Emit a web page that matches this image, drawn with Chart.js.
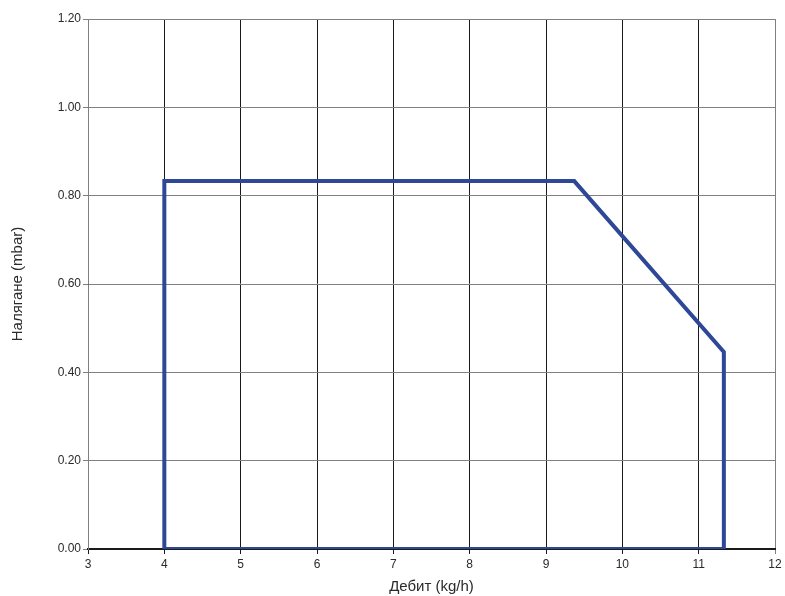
<!DOCTYPE html>
<html>
<head>
<meta charset="utf-8">
<script src="https://cdn.jsdelivr.net/npm/chart.js@4/dist/chart.umd.min.js"></script>
<style>
  html, body { margin: 0; padding: 0; background: #fff; }
  #wrap { width: 785px; height: 596px; }
</style>
</head>
<body>
<div id="wrap"><canvas id="chart"></canvas></div>
<script>
// operating range outline (flow kg/h, pressure mbar)
const flowValues = [4, 4, 9.37, 11.33, 11.33, 4];
const pressureValues = [0, 0.833, 0.833, 0.446, 0, 0];
const xTicks = [3, 4, 5, 6, 7, 8, 9, 10, 11, 12];
const yTicks = [0, 0.2, 0.4, 0.6, 0.8, 1.0, 1.2];

const points = flowValues.map((x, i) => ({ x: x, y: pressureValues[i] }));

Chart.defaults.font.family = '"Liberation Sans", Arial, sans-serif';
Chart.defaults.color = '#2a2a2a';

const ctx = document.getElementById('chart').getContext('2d');
new Chart(ctx, {
    type: 'scatter',
    data: {
        datasets: [{
            data: points,
            showLine: true,
            borderColor: '#2e4797',
            borderWidth: 4,
            borderJoinStyle: 'miter',
            borderCapStyle: 'square',
            pointRadius: 0,
            fill: false,
            tension: 0
        }]
    },
    options: {
        responsive: true,
        maintainAspectRatio: false,
        animation: false,
        layout: { padding: { top: 19, right: 10, left: 0, bottom: 0 } },
        plugins: {
            legend: { display: false },
            tooltip: { enabled: false }
        },
        scales: {
            x: {
                type: 'linear',
                min: xTicks[0],
                max: xTicks[xTicks.length - 1],
                afterBuildTicks: s => { s.ticks = xTicks.map(v => ({ value: v })); },
                afterFit: s => { s.height = 47; },
                ticks: {
                    font: { size: 12 },
                    padding: 3,
                    callback: v => String(v)
                },
                grid: {
                    color: c => c.index === xTicks.length - 1 ? '#808080' : '#1a1a1a',
                    lineWidth: 1,
                    tickLength: 5
                },
                border: { color: '#1a1a1a', width: 2 },
                title: {
                    display: true,
                    text: 'Дебит (kg/h)',
                    font: { size: 15 },
                    padding: { top: 0, bottom: 0 }
                }
            },
            y: {
                min: yTicks[0],
                max: yTicks[yTicks.length - 1],
                afterBuildTicks: s => { s.ticks = yTicks.map(v => ({ value: v })); },
                afterFit: s => { s.width = 88; },
                ticks: {
                    font: { size: 12 },
                    padding: 2,
                    callback: v => Number(v).toFixed(2)
                },
                grid: {
                    color: '#808080',
                    lineWidth: 1,
                    tickLength: 5
                },
                border: { color: '#808080', width: 1 },
                title: {
                    display: true,
                    text: 'Налягане (mbar)',
                    font: { size: 15 },
                    padding: { top: 9, bottom: 0 }
                }
            }
        }
    }
});
</script>
</body>
</html>
